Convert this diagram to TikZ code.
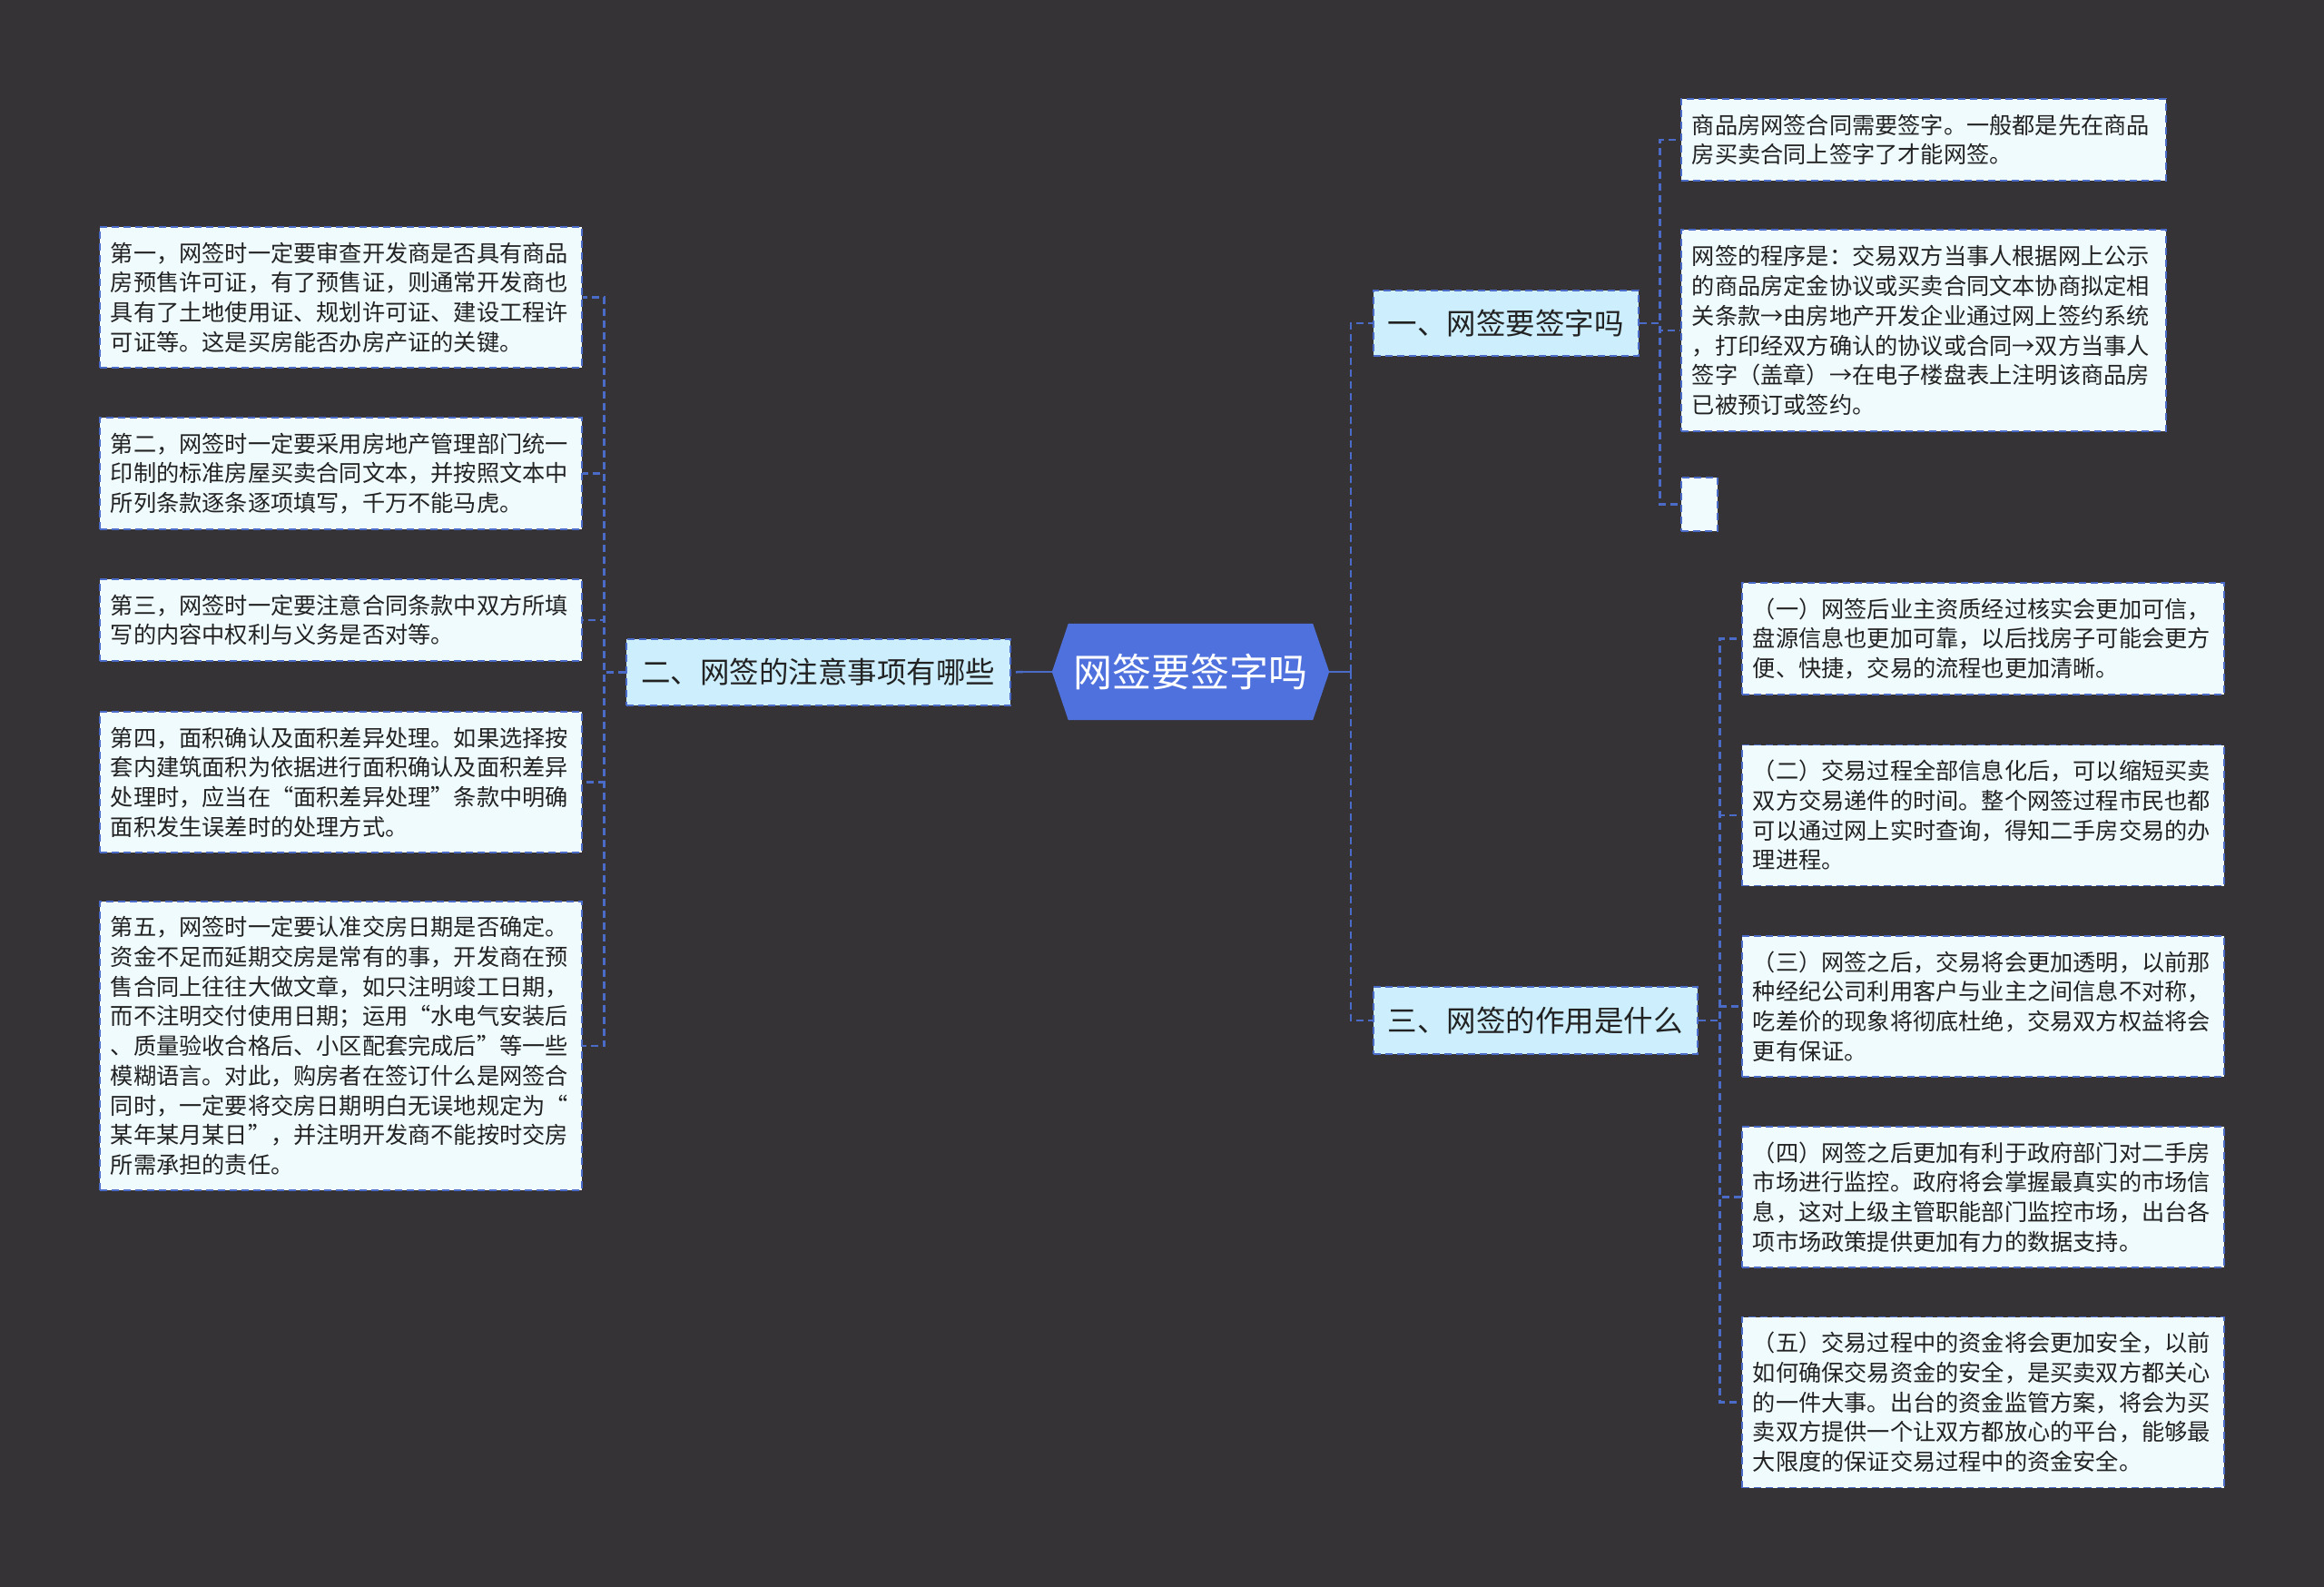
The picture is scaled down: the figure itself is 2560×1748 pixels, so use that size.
\documentclass[tikz,border=0pt]{standalone}
\usepackage{fontspec}
\setmainfont{Noto Sans CJK SC}
\usetikzlibrary{calc,backgrounds}
\definecolor{bgc}{HTML}{353335}
\definecolor{lineblue}{HTML}{4A6BC8}
\definecolor{leaffill}{HTML}{F0FBFE}
\definecolor{mainfill}{HTML}{CCEEFD}
\definecolor{hexfill}{HTML}{4E71DE}
\definecolor{textc}{HTML}{222222}
\begin{document}
\begin{tikzpicture}[x=1pt,y=-1pt,
  boxline/.style={draw=lineblue, line width=1.8pt, dash pattern=on 8pt off 5pt},
  leaf/.style={boxline, fill=leaffill, anchor=west, inner xsep=12pt, inner ysep=0pt,
    align=left, text width=507pt, font=\fontsize{25.2}{32.7}\selectfont, text=textc},
  leafw/.style={leaf, text width=510pt},
  mainbox/.style={boxline, fill=mainfill, anchor=west, inner xsep=0pt, inner ysep=0pt,
    align=center, font=\fontsize{32.5}{38}\selectfont, text=textc},
  rootnode/.style={inner sep=0pt, minimum width=305pt, minimum height=106pt,
    font=\fontsize{43}{48}\selectfont, text=white},
  conn/.style={draw=lineblue, line width=2.5pt, dash pattern=on 8pt off 5pt},
  solidconn/.style={draw=lineblue, line width=2.8pt}
]
\useasboundingbox (0,0) rectangle (2560,1748);

% root
\node[rootnode] (root) at (1311.5,740) {网签要签字吗};

% main boxes
\node[mainbox, minimum width=423pt, minimum height=73pt] (m2) at (689,740.5) {二、网签的注意事项有哪些};
\node[mainbox, minimum width=292pt, minimum height=72pt] (m1) at (1512,356) {一、网签要签字吗};
\node[mainbox, minimum width=357pt, minimum height=74pt] (m3) at (1512,1124) {三、网签的作用是什么};

% left leaves
\node[leaf, minimum height=155pt] (l1) at (109,327.5) {第一，网签时一定要审查开发商是否具有商品\\房预售许可证，有了预售证，则通常开发商也\\具有了土地使用证、规划许可证、建设工程许\\可证等。这是买房能否办房产证的关键。};
\node[leaf, minimum height=123pt] (l2) at (109,521.5) {第二，网签时一定要采用房地产管理部门统一\\印制的标准房屋买卖合同文本，并按照文本中\\所列条款逐条逐项填写，千万不能马虎。};
\node[leaf, minimum height=90pt] (l3) at (109,683) {第三，网签时一定要注意合同条款中双方所填\\写的内容中权利与义务是否对等。};
\node[leaf, minimum height=155pt] (l4) at (109,861.5) {第四，面积确认及面积差异处理。如果选择按\\套内建筑面积为依据进行面积确认及面积差异\\处理时，应当在“面积差异处理”条款中明确\\面积发生误差时的处理方式。};
\node[leaf, minimum height=318pt] (l5) at (109,1152) {第五，网签时一定要认准交房日期是否确定。\\资金不足而延期交房是常有的事，开发商在预\\售合同上往往大做文章，如只注明竣工日期，\\而不注明交付使用日期；运用“水电气安装后\\、质量验收合格后、小区配套完成后”等一些\\模糊语言。对此，购房者在签订什么是网签合\\同时，一定要将交房日期明白无误地规定为“\\某年某月某日”，并注明开发商不能按时交房\\所需承担的责任。};

% right top leaves
\node[leafw, minimum height=90pt] (t1) at (1851,154) {商品房网签合同需要签字。一般都是先在商品\\房买卖合同上签字了才能网签。};
\node[leafw, minimum height=222pt] (t2) at (1851,364) {网签的程序是：交易双方当事人根据网上公示\\的商品房定金协议或买卖合同文本协商拟定相\\关条款→由房地产开发企业通过网上签约系统\\，打印经双方确认的协议或合同→双方当事人\\签字（盖章）→在电子楼盘表上注明该商品房\\已被预订或签约。};
\node[boxline, fill=leaffill, anchor=west, inner sep=0pt, minimum width=40pt, minimum height=59pt] (t3) at (1851,555.5) {};

% right bottom leaves
\node[leaf, minimum height=123pt] (r1) at (1918,703.5) {（一）网签后业主资质经过核实会更加可信，\\盘源信息也更加可靠，以后找房子可能会更方\\便、快捷，交易的流程也更加清晰。};
\node[leaf, minimum height=155pt] (r2) at (1918,898) {（二）交易过程全部信息化后，可以缩短买卖\\双方交易递件的时间。整个网签过程市民也都\\可以通过网上实时查询，得知二手房交易的办\\理进程。};
\node[leaf, minimum height=155pt] (r3) at (1918,1108.5) {（三）网签之后，交易将会更加透明，以前那\\种经纪公司利用客户与业主之间信息不对称，\\吃差价的现象将彻底杜绝，交易双方权益将会\\更有保证。};
\node[leaf, minimum height=155pt] (r4) at (1918,1318.5) {（四）网签之后更加有利于政府部门对二手房\\市场进行监控。政府将会掌握最真实的市场信\\息，这对上级主管职能部门监控市场，出台各\\项市场政策提供更加有力的数据支持。};
\node[leaf, minimum height=188pt] (r5) at (1918,1544.5) {（五）交易过程中的资金将会更加安全，以前\\如何确保交易资金的安全，是买卖双方都关心\\的一件大事。出台的资金监管方案，将会为买\\卖双方提供一个让双方都放心的平台，能够最\\大限度的保证交易过程中的资金安全。};

% background and hexagon
\begin{pgfonlayer}{background}
  \fill[bgc] (0,0) rectangle (2560,1748);
  \fill[hexfill] (root.west) -- ([xshift=18pt]root.north west) -- ([xshift=-18pt]root.north east)
    -- (root.east) -- ([xshift=-18pt]root.south east) -- ([xshift=18pt]root.south west) -- cycle;
\end{pgfonlayer}

% connectors: root
\draw[solidconn] (root.west) -- ++(-32,0) coordinate (rl);
\draw[conn] (rl) -- (m2.east);
\coordinate (tc) at ($(root.east)!0.5!(root.east -| m1.west)$);
\draw[solidconn] (root.east) -- (tc);
\draw[conn] (tc) |- (m1.west);
\draw[conn] (tc) |- (m3.west);

% left branch
\coordinate (tl) at ($(m2.west)!0.5!(m2.west -| l1.east)$);
\foreach \c in {l1,l2,l3,l4,l5} \draw[conn] (m2.west) -- (tl) |- (\c.east);

% right branch 1
\coordinate (t1x) at ($(m1.east)!0.5!(m1.east -| t1.west)$);
\foreach \c in {t1,t2,t3} \draw[conn] (m1.east) -- (t1x) |- (\c.west);

% right branch 3
\coordinate (t3x) at ($(m3.east)!0.5!(m3.east -| r1.west)$);
\foreach \c in {r1,r2,r3,r4,r5} \draw[conn] (m3.east) -- (t3x) |- (\c.west);
\end{tikzpicture}
\end{document}
